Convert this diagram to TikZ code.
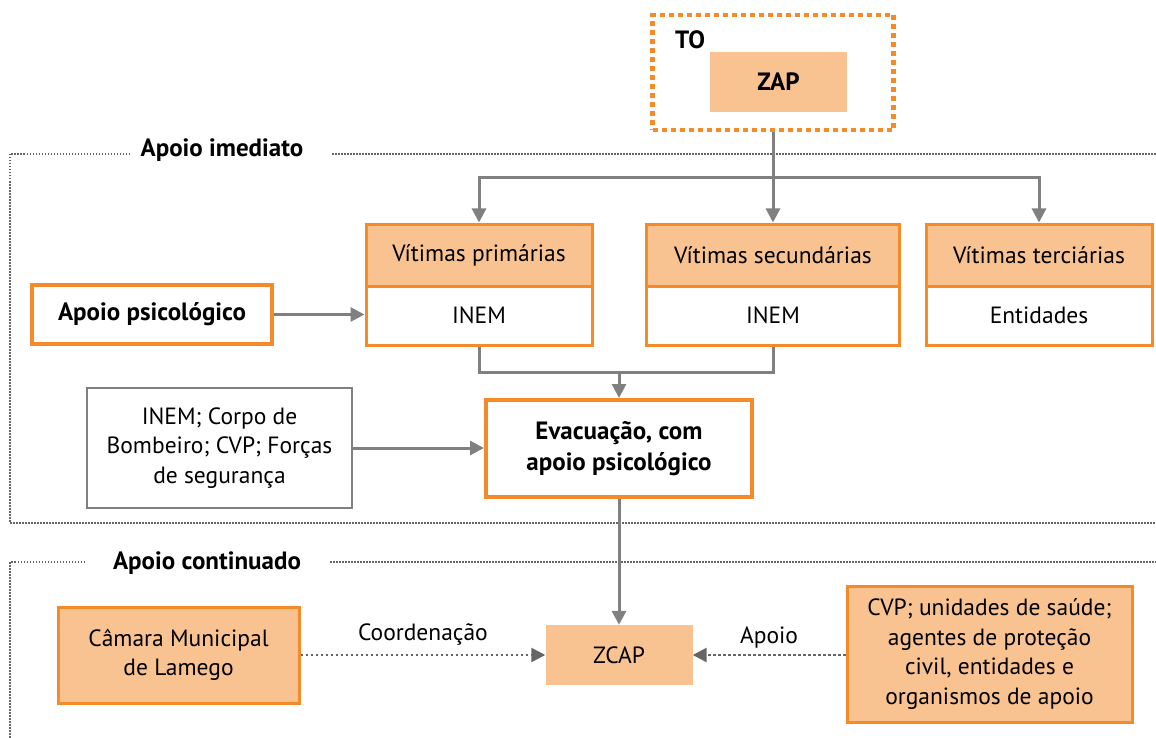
\documentclass[tikz,border=0pt]{standalone}
\usepackage{fontspec}
\setmainfont{PT Sans}
\usetikzlibrary{arrows.meta}
\definecolor{orng}{HTML}{F58A28}
\definecolor{peach}{HTML}{F9C391}
\definecolor{arrgray}{HTML}{808080}
\definecolor{dotgray}{HTML}{666666}
\begin{document}
\begin{tikzpicture}[x=1pt,y=-1pt,
  font=\fontsize{23.5}{29.5}\selectfont,
  every node/.style={inner sep=0pt, align=center},
  obox/.style={draw=orng, line width=3pt},
  pbox/.style={obox, fill=peach},
  bld/.style={font=\fontsize{25}{31}\selectfont\bfseries},
  gline/.style={draw=arrgray, line width=3pt},
  conn/.style={gline, -{Triangle[length=14pt,width=14pt]}},
  dconn/.style={draw=dotgray, line width=2.5pt, dash pattern=on 2.5pt off 2.5pt, -{Triangle[length=14pt,width=14pt]}},
  framel/.style={draw=dotgray, line width=1.5pt, dash pattern=on 1.5pt off 1.5pt}
]
\useasboundingbox (0,0) rectangle (1156,738);

% frames
\node[bld] (ai) at (222,150) {Apoio imediato};
\draw[framel] (130,154) -- (10,154) -- (10,523) -- (1160,523);
\draw[framel] (332,154) -- (1160,154);
\node[bld] (ac) at (207,563) {Apoio continuado};
\draw[framel] (85,562) -- (10,562) -- (10,740);
\draw[framel] (330,562) -- (1160,562);

% TO / ZAP
\node[draw=orng, line width=4.5pt, dash pattern=on 5pt off 4pt, minimum width=241pt, minimum height=115pt] (to) at (773,72.5) {};
\node[bld, anchor=west] (tol) at (675,40) {TO};
\node[bld, fill=peach, minimum width=137pt, minimum height=60pt] (zap) at (778.5,82) {ZAP};

% victims
\node[pbox, minimum width=226pt, minimum height=62pt] (vph) at (479,255) {Vítimas primárias};
\node[obox, minimum width=226pt, minimum height=59pt] (vpb) at (479,315.5) {INEM};
\node[pbox, minimum width=253pt, minimum height=62pt] (vsh) at (773,255) {Vítimas secundárias};
\node[obox, minimum width=253pt, minimum height=59pt] (vsb) at (773,315.5) {INEM};
\node[pbox, minimum width=226pt, minimum height=62pt] (vth) at (1039,255) {Vítimas terciárias};
\node[obox, minimum width=226pt, minimum height=59pt] (vtb) at (1039,315.5) {Entidades};

\coordinate (j) at (773,178);
\draw[gline] (to.south) -- (j);
\draw[conn] (j) -| (vph.north);
\draw[conn] (j) -- (vsh.north);
\draw[conn] (j) -| (vth.north);

% apoio psicologico
\node[obox, line width=4pt, bld, minimum width=240pt, minimum height=59pt] (aps) at (152,314.5) {Apoio psicológico};
\draw[conn] (aps.east) -- (aps.east -| vpb.west);

% evacuacao
\node[obox, line width=4pt, bld, minimum width=266pt, minimum height=97pt] (ev) at (619,448.5) {Evacuação, com\\apoio psicológico};
\coordinate (m) at (619,372);
\draw[gline] (vpb.south) |- (m) -| (vsb.south);
\draw[conn] (m) -- (ev.north);

\node[draw=arrgray, line width=1.5pt, minimum width=265pt, minimum height=120pt] (inem) at (219.5,448) {INEM; Corpo de\\Bombeiro; CVP; Forças\\de segurança};
\draw[conn] (inem.east) -- (inem.east -| ev.west);

% bottom
\node[fill=peach, minimum width=147pt, minimum height=60pt] (zcap) at (619,655) {ZCAP};
\draw[conn] (ev.south) -- (zcap.north);
\node[pbox, minimum width=241pt, minimum height=96pt] (cam) at (178.5,655) {Câmara Municipal\\de Lamego};
\node[pbox, minimum width=285pt, minimum height=136pt] (cvp) at (989.5,654) {CVP; unidades de saúde;\\agentes de proteção\\civil, entidades e\\organismos de apoio};
\draw[dconn] (cam.east |- zcap.west) -- node[above=8pt] (lc) {Coordenação} (zcap.west);
\draw[dconn] (cvp.west |- zcap.east) -- node[above=6pt] (la) {Apoio} (zcap.east);
\end{tikzpicture}
\end{document}
